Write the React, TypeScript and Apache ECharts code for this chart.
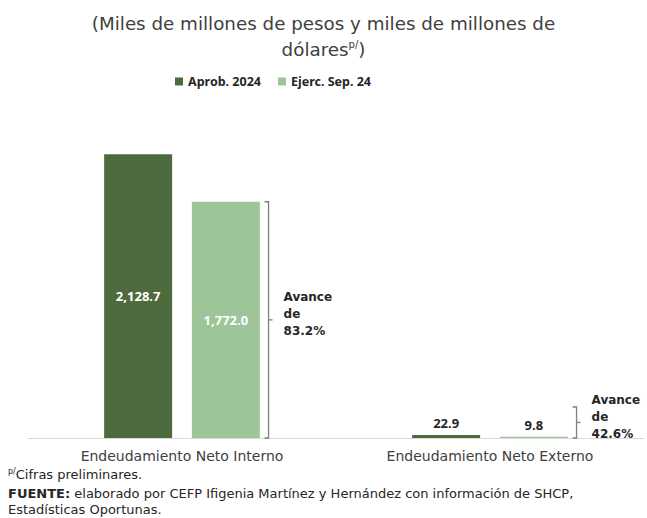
import React, { useEffect, useRef } from "react";
import * as echarts from "echarts";

const categories = ["Endeudamiento Neto Interno", "Endeudamiento Neto Externo"];
const aprob2024 = [2128.7, 22.9];
const ejercSep24 = [1772.0, 9.8];
const avanceLabels = ["83.2%", "42.6%"];
const seriesNames = ["Aprob. 2024", "Ejerc. Sep. 24"];

const fmt = (v: number) =>
  v.toLocaleString("en-US", { minimumFractionDigits: 1, maximumFractionDigits: 1 });

export default function App() {
  const ref = useRef<HTMLDivElement>(null);
  useEffect(() => {
    document.body.style.margin = "0";
    const chart = echarts.init(ref.current!, null, { renderer: "svg" });
    const font = "Noto Sans";
    const wide = "DejaVu Sans";
    const darkText = "#262626";
    const option: any = {
      animation: false,
      backgroundColor: "#ffffff",
      title: {
        left: "center",
        top: 5,
        text: "(Miles de millones de pesos y miles de millones de\ndólares{sup|p/})",
        textStyle: {
          fontFamily: wide,
          fontSize: 18.3,
          fontWeight: "normal",
          color: "#404040",
          lineHeight: 26,
          rich: {
            sup: { fontFamily: wide, fontSize: 10, color: "#404040", padding: [0, 0, 10, 0] },
          },
        },
      },
      legend: {
        top: 70,
        left: 170,
        itemWidth: 8,
        itemHeight: 8,
        itemGap: 17,
        icon: "rect",
        textStyle: { fontFamily: font, fontSize: 12.5, fontWeight: "bold", color: darkText },
        data: seriesNames,
      },
      grid: { left: 28, right: 3, top: 118, bottom: 80, containLabel: false },
      xAxis: {
        type: "category",
        data: categories,
        axisLine: { show: true, lineStyle: { color: "#d9d9d9", width: 1 } },
        axisTick: { show: false },
        axisLabel: { fontFamily: wide, fontSize: 14, color: "#404040", margin: 11 },
      },
      yAxis: { type: "value", min: 0, max: 2400, show: false, splitLine: { show: false } },
      series: [
        {
          name: seriesNames[0],
          type: "bar",
          barWidth: 68,
          barGap: "29%",
          itemStyle: { color: "#4E6B3D" },
          data: aprob2024.map((v, i) => ({
            value: v,
            label: {
              show: true,
              position: i === 0 ? "inside" : "top",
              color: i === 0 ? "#ffffff" : darkText,
              fontFamily: font,
              fontSize: 13,
              fontWeight: "bold",
              formatter: () => fmt(v),
            },
          })),
        },
        {
          name: seriesNames[1],
          type: "bar",
          barWidth: 68,
          itemStyle: { color: "#9EC59A" },
          data: ejercSep24.map((v, i) => ({
            value: v,
            label: {
              show: true,
              position: i === 0 ? "inside" : "top",
              color: i === 0 ? "#ffffff" : darkText,
              fontFamily: font,
              fontSize: 13,
              fontWeight: "bold",
              formatter: () => fmt(v),
            },
          })),
        },
        {
          type: "custom",
          silent: true,
          z: 5,
          data: ejercSep24.map((v, i) => [i, v]),
          renderItem: (params: any, api: any) => {
            const cat = api.value(0);
            const v = api.value(1);
            const base = api.coord([cat, 0]);
            const top = api.coord([cat, v]);
            const w = api.size([1, 0])[0];
            const x = base[0] + w * 0.281;
            const y1 = Math.min(top[1], base[1] - 31);
            const y2 = base[1];
            const mid = (y1 + y2) / 2;
            const stroke = { stroke: "#808080", lineWidth: 1.3, fill: "none" };
            return {
              type: "group",
              children: [
                {
                  type: "polyline",
                  shape: { points: [[x - 4, y1], [x, y1], [x, y2], [x - 4, y2]] },
                  style: stroke,
                },
                { type: "line", shape: { x1: x, y1: mid, x2: x + 4, y2: mid }, style: stroke },
                {
                  type: "text",
                  x: x + 15,
                  y: mid - 6,
                  style: {
                    text: "Avance\nde\n" + avanceLabels[params.dataIndex],
                    fontFamily: wide,
                    fontSize: 12,
                    fontWeight: "bold",
                    lineHeight: 17,
                    fill: darkText,
                    verticalAlign: "middle",
                    align: "left",
                  },
                },
              ],
            };
          },
        },
      ],
      graphic: [
        {
          type: "text",
          left: 8,
          top: 467,
          style: {
            text: "{sup|p/}Cifras preliminares.",
            fontFamily: wide,
            fontSize: 13,
            fill: "#262626",
            rich: { sup: { fontSize: 8, padding: [0, 0, 6, 0], fontFamily: wide, fill: "#262626" } },
          },
        },
        {
          type: "text",
          left: 8,
          top: 485,
          style: {
            text:
              "{b|FUENTE:} elaborado por CEFP Ifigenia Martínez y Hernández con información de SHCP,\nEstadísticas Oportunas.",
            fontFamily: wide,
            fontSize: 13,
            lineHeight: 16,
            fill: "#262626",
            rich: { b: { fontWeight: "bold", fontFamily: wide, fontSize: 13, fill: "#262626" } },
          },
        },
      ],
    };
    chart.setOption(option);
    return () => chart.dispose();
  }, []);
  return (
    <div
      ref={ref}
      style={{ position: "absolute", left: 0, top: 0, width: 647, height: 518 }}
    />
  );
}
